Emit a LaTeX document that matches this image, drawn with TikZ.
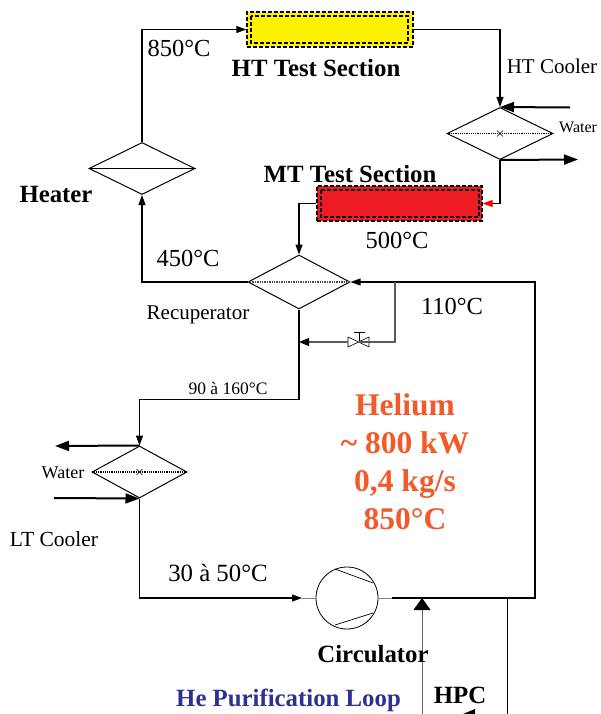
\documentclass[tikz,border=0pt]{standalone}
\usepackage{fontspec}
\setmainfont{Liberation Serif}
\usetikzlibrary{arrows.meta, positioning, calc, fit, shapes.geometric}

\definecolor{heliumorange}{RGB}{241,90,41}
\definecolor{loopblue}{RGB}{46,49,146}
\definecolor{htyellow}{RGB}{255,242,0}
\definecolor{mtred}{RGB}{237,28,36}

\tikzset{
  flow/.style={line width=1.1pt, -{Stealth[inset=0pt,length=10pt,width=7pt]}},
  pipe/.style={line width=1.1pt},
  water/.style={line width=2pt, -{Stealth[inset=0pt,length=14pt,width=10pt]}},
  exchanger/.style={diamond, draw, line width=1pt, inner sep=0pt, aspect=2},
  section/.style={rectangle, draw=black, line width=1.4pt, inner sep=0pt, dash pattern=on 4pt off 2pt},
  plain/.style={font=\fontsize{#1}{#1}\selectfont, inner sep=0pt},
  bold/.style={font=\fontsize{#1}{#1}\selectfont\bfseries, inner sep=0pt},
}

\begin{document}
\begin{tikzpicture}[x=1pt,y=-1pt]
  \useasboundingbox (0,0) rectangle (600,714);
  % test sections
  \node[section, fill=htyellow, minimum width=166pt, minimum height=35pt] (htsection) at (330,29.5) {};
  \draw[section] (251,16) rectangle (408,43);
  \node[section, fill=mtred, minimum width=165pt, minimum height=35pt] (mtsection) at (399.5,203.5) {};
  \draw[section] (321,190) rectangle (479,217);
  % exchangers
  \node[exchanger, minimum width=106pt, minimum height=52pt] (heater) at (142,168.5) {};
  \node[exchanger, minimum width=106pt, minimum height=52pt] (htcooler) at (500,133.5) {};
  \node[exchanger, minimum width=102pt, minimum height=54pt] (recup) at (299,282) {};
  \node[exchanger, minimum width=95pt, minimum height=52pt] (ltcooler) at (139.5,472) {};
  \node[circle, draw, line width=0.8pt, minimum size=62pt, inner sep=0pt] (circulator) at (347,598) {};
  \draw[line width=0.8pt] (heater.west) -- (heater.east);
  \draw[line width=1.2pt, densely dotted] (htcooler.west) -- (htcooler.east);
  \draw[line width=1.4pt, densely dotted, black!70] (recup.west) -- (recup.east);
  \draw[line width=1.2pt, densely dotted] (ltcooler.west) -- (ltcooler.east);
  \foreach \n in {htcooler,ltcooler} {
    \draw[line width=0.6pt] ($(\n.center)+(-3,-3)$) -- +(6,6);
    \draw[line width=0.6pt] ($(\n.center)+(-3,3)$) -- +(6,-6);
  }
  % circulator blades
  \draw[line width=0.7pt] (335,569) -- (373,583);
  \draw[line width=0.7pt] (335,625) -- (373,613);
  % valve
  \coordinate (valve) at (359,342);
  \draw[line width=0.6pt, fill=white] (348,337) -- (369,347) -- (369,337) -- (348,347) -- cycle;
  \draw[line width=0.8pt] (valve) -- (359,332);
  \draw[line width=0.8pt] (353.5,332) -- (364.5,332);
  % main loop
  \coordinate (rightup) at (535,282);
  \coordinate (rightdown) at (535,598);
  \coordinate (bypasstop) at (395,282);
  \coordinate (bypassjoin) at (299,342);
  \coordinate (lowbend) at (299,399.5);
  \draw[flow] (heater.north) |- (htsection.west);
  \draw[flow] (htsection.east) -| (htcooler.north);
  \draw[pipe, -{Stealth[inset=0pt,length=10pt,width=7pt,red]}] (htcooler.south) |- (mtsection.east);
  \draw[flow] (mtsection.west) -| (recup.north);
  \draw[flow] (recup.west) -| (heater.south);
  \draw[flow] (circulator.east) ++(14,0) -- (rightdown) -- (rightup) -- (recup.east);
  \draw[pipe] (recup.south) -- (lowbend);
  \draw[flow] (lowbend) -| (ltcooler.north);
  \draw[pipe] (ltcooler.south) |- (300,598);
  \draw[flow] (290,598) -- (302,598);
  \draw[line width=1pt, black!50] (302,598) -- (circulator.west);
  \draw[line width=1pt, black!50] (circulator.east) -- +(14,0);
  % bypass
  \draw[line width=1.2pt, black!65] (bypasstop) -- (395,342) -- (valve);
  \draw[line width=1.2pt, black!65, -{Stealth[inset=0pt,length=10pt,width=8pt,black]}] (348,342) -- (bypassjoin);
  % water lines
  \coordinate (htin) at (570,107.5);
  \coordinate (htout) at (578,159.5);
  \coordinate (ltout) at (55,446);
  \coordinate (ltin) at (54,498);
  \draw[water] (htin) -- (htcooler.north);
  \draw[water] (htcooler.south) -- (htout);
  \draw[water] (ltcooler.north) -- (ltout);
  \draw[water] (ltin) -- (ltcooler.south);
  % purification loop
  \coordinate (hpcin) at (422,714);
  \coordinate (hpcout) at (507,714);
  \draw[line width=1pt, black!60, -{Stealth[inset=0pt,length=12pt,width=17pt,black]}] (hpcin) -- (422,598);
  \draw[line width=0.8pt] (507,598) -- (hpcout);
  \fill (475,709) -- (463,714) -- (475,714) -- cycle;
  % labels
  \node[plain=24.5] (t850) at (179,48) {850°C};
  \node[bold=24.8] (tht) at (316,68) {HT Test Section};
  \node[plain=21] (thtc) at (552,66) {HT Cooler};
  \node[plain=16, anchor=west] (twatera) at (559,127) {Water};
  \node[bold=24.8] (tmt) at (350,174) {MT Test Section};
  \node[plain=24.5] (t500) at (397,240) {500°C};
  \node[bold=24.8] (theater) at (56,195) {Heater};
  \node[plain=24.5] (t450) at (188,258) {450°C};
  \node[plain=21] (trecup) at (198,315) {Recuperator};
  \node[plain=24.5] (t110) at (452,306) {110°C};
  \node[plain=17.5] (t90) at (228,388) {90 à 160°C};
  \node[plain=18] (twaterb) at (63,473) {Water};
  \node[plain=21.5] (tlt) at (54,539) {LT Cooler};
  \node[plain=24.8] (t30) at (218,573) {30 à 50°C};
  \node[bold=24.8] (tcirc) at (373,654) {Circulator};
  \node[font=\fontsize{24.8}{24.8}\selectfont\bfseries, text=loopblue, inner sep=0pt] (tloop) at (288.5,700) {He Purification Loop};
  \node[bold=24.8] (thpc) at (460,695) {HPC};
  \foreach \t/\y/\n in {Helium/415/he, {\textasciitilde{} 800 kW}/453/pw, {0,4 kg/s}/491/fl, 850°C/529/tm} {
    \node[font=\fontsize{31.5}{31.5}\selectfont\bfseries, text=heliumorange, inner sep=0pt, anchor=base] (\n) at (405,\y) {\t};
  }
\end{tikzpicture}
\end{document}
